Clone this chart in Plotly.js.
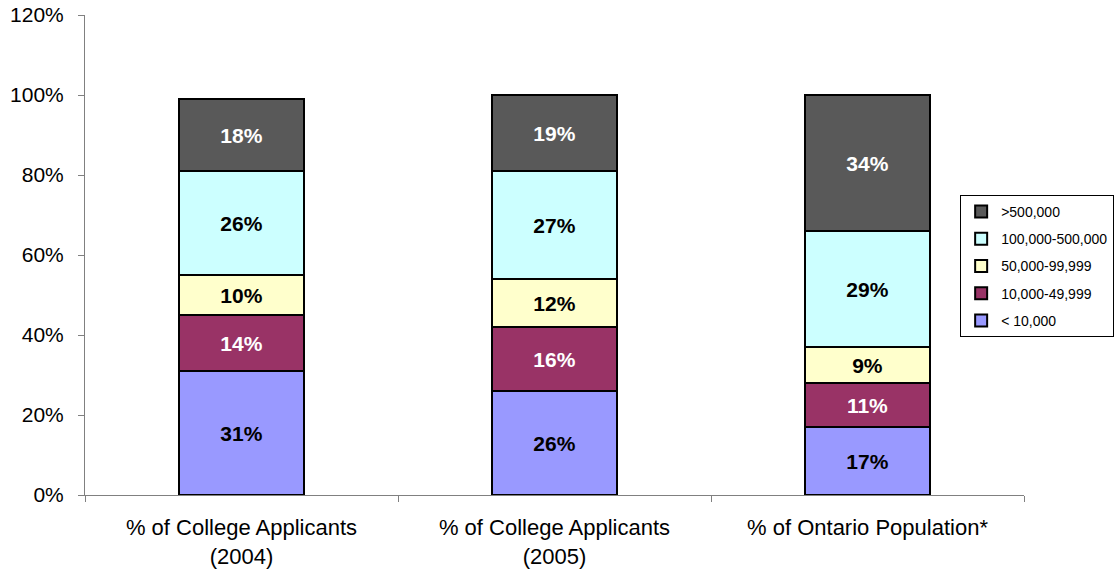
<!DOCTYPE html>
<html>
<head>
<meta charset="utf-8">
<script src="https://cdn.plot.ly/plotly-3.0.1.min.js"></script>
<style>html,body{margin:0;padding:0;background:#fff;overflow:hidden}</style>
</head>
<body>
<div id="chart" style="width:1118px;height:574px"></div>
<script>
const categories = ["% of College Applicants<br>(2004)", "% of College Applicants<br>(2005)", "% of Ontario Population*"];
const seriesNames = ["< 10,000", "10,000-49,999", "50,000-99,999", "100,000-500,000", ">500,000"];
const under10k = [31, 26, 17];
const from10kTo50k = [14, 16, 11];
const from50kTo100k = [10, 12, 9];
const from100kTo500k = [26, 27, 29];
const over500k = [18, 19, 34];
const seriesValues = [under10k, from10kTo50k, from50kTo100k, from100kTo500k, over500k];
const colors = ["#9999FF", "#993366", "#FFFFCC", "#CCFFFF", "#595959"];
const textColors = ["#000000", "#FFFFFF", "#000000", "#000000", "#FFFFFF"];

const traces = seriesNames.map((name, i) => ({
  type: "bar",
  name: name,
  x: categories,
  y: seriesValues[i],
  width: 0.4,
  legendgroup: "g" + i,
  legendrank: (seriesNames.length - i) * 10,
  marker: {color: colors[i], line: {color: "#000000", width: 2}},
  texttemplate: "<b>%{y}</b>",
  textposition: "inside",
  insidetextanchor: "middle",
  textangle: 0,
  constraintext: "none",
  textfont: {family: "Liberation Sans, Arial, sans-serif", size: 21, color: textColors[i]},
  hoverinfo: "skip"
}));

const layout = {
  width: 1118,
  height: 574,
  barmode: "stack",
  paper_bgcolor: "#ffffff",
  plot_bgcolor: "#ffffff",
  margin: {l: 85, r: 94, t: 15, b: 79, autoexpand: false},
  font: {family: "Liberation Sans, Arial, sans-serif", color: "#000000"},
  showlegend: true,
  legend: {
    x: 0.932, xanchor: "left",
    y: 0.625, yanchor: "top",
    traceorder: "grouped",
    tracegroupgap: 6,
    bordercolor: "#000000",
    borderwidth: 1,
    bgcolor: "#ffffff",
    font: {size: 14, color: "#000000"},
    itemwidth: 30
  },
  xaxis: {
    type: "category",
    range: [-0.5, 2.5],
    showline: true,
    linecolor: "#808080",
    linewidth: 1,
    ticks: "outside",
    tickson: "boundaries",
    ticklen: 6,
    tickcolor: "#808080",
    showgrid: false,
    ticklabelstandoff: 13,
    tickfont: {size: 22},
    fixedrange: true
  },
  yaxis: {
    range: [0, 120],
    dtick: 20,
    tick0: 0,
    ticksuffix: "%",
    showline: true,
    linecolor: "#808080",
    linewidth: 1,
    ticks: "outside",
    ticklen: 6,
    tickcolor: "#808080",
    showgrid: false,
    zeroline: false,
    ticklabelstandoff: 10,
    tickfont: {size: 21},
    fixedrange: true
  }
};

Plotly.newPlot("chart", traces, layout, {displayModeBar: false, staticPlot: true});
</script>
</body>
</html>
